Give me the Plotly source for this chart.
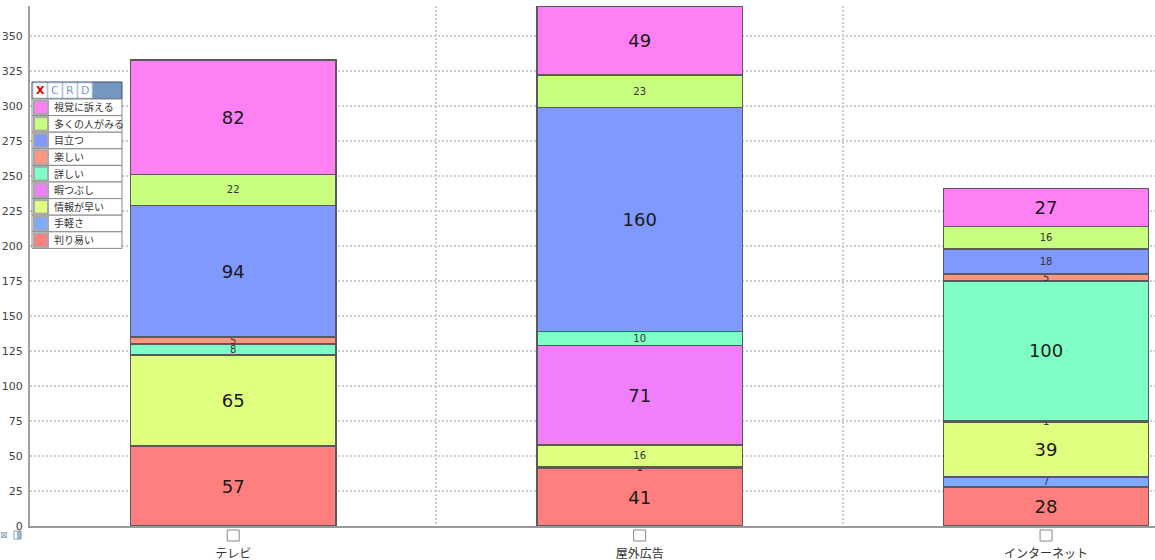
import plotly.graph_objects as go

# categories on the x axis
categories = ["テレビ", "屋外広告", "インターネット"]

# one list per response (bottom of the stack first)
wakariyasui = [57, 41, 28]      # 判り易い
tegarusa = [0, 1, 7]            # 手軽さ
jouhou_hayai = [65, 16, 39]     # 情報が早い
himatsubushi = [0, 71, 1]       # 暇つぶし
kuwashii = [8, 10, 100]         # 詳しい
tanoshii = [5, 0, 5]            # 楽しい
medatsu = [94, 160, 18]         # 目立つ
ooku_miru = [22, 23, 16]        # 多くの人がみる
shikaku = [82, 49, 27]          # 視覚に訴える

series_names = ["判り易い", "手軽さ", "情報が早い", "暇つぶし", "詳しい",
                "楽しい", "目立つ", "多くの人がみる", "視覚に訴える"]
series_values = [wakariyasui, tegarusa, jouhou_hayai, himatsubushi, kuwashii,
                 tanoshii, medatsu, ooku_miru, shikaku]
colors = ["#ff7f7f", "#7faaff", "#dfff7f", "#f07ffc", "#7fffc6",
          "#ff967f", "#7f99ff", "#c8ff7f", "#ff7ff5"]

FONT = "DejaVu Sans, Noto Sans CJK JP, sans-serif"

# plot area in pixels (used for the hand-made legend box)
L, T, W, H = 30, 6, 1125, 520


def px_x(p):
    return (p - L) / W


def px_y(p):
    return (T + H - p) / H


data = []
for name, vals, col in zip(series_names, series_values, colors):
    data.append(go.Bar(
        x=categories,
        y=vals,
        name=name,
        marker=dict(color=col, line=dict(color="#5a5a5a", width=1.5)),
        text=[str(v) if v else "" for v in vals],
        textposition="inside",
        insidetextanchor="middle",
        textangle=0,
        constraintext="none",
        textfont=dict(size=[18 if v >= 25 else 10 for v in vals],
                      color=["#1a1a1a" if v >= 25 else "#333333" for v in vals],
                      family=FONT),
        showlegend=False,
        hoverinfo="x+y+name",
    ))

shapes = []
annotations = []

# legend header with the X C R D buttons
shapes.append(dict(type="rect", xref="paper", yref="paper",
                   x0=px_x(32), x1=px_x(122), y0=px_y(99), y1=px_y(82),
                   fillcolor="#7397bd", line=dict(color="#3b4d6e", width=1)))
for i, (lab, lc) in enumerate(zip(["X", "C", "R", "D"],
                                  ["#e00000", "#7a9bd0", "#7a9bd0", "#7a9bd0"])):
    bx0 = 33 + i * 15
    shapes.append(dict(type="rect", xref="paper", yref="paper",
                       x0=px_x(bx0), x1=px_x(bx0 + 14), y0=px_y(98), y1=px_y(83),
                       fillcolor="white", line=dict(color="#c8d4e4", width=1)))
    annotations.append(dict(xref="paper", yref="paper", x=px_x(bx0 + 7), y=px_y(90.5),
                            text="<b>X</b>" if lab == "X" else lab,
                            showarrow=False, xanchor="center", yanchor="middle",
                            font=dict(size=11, color=lc, family=FONT)))

# legend rows, top of the stack first
row_h = 16.6
for j, (name, col) in enumerate(zip(series_names[::-1], colors[::-1])):
    y0 = 99 + j * row_h
    y1 = y0 + row_h
    shapes.append(dict(type="rect", xref="paper", yref="paper",
                       x0=px_x(32), x1=px_x(122), y0=px_y(y1), y1=px_y(y0),
                       fillcolor="white", line=dict(color="#888888", width=1)))
    shapes.append(dict(type="rect", xref="paper", yref="paper",
                       x0=px_x(33), x1=px_x(49), y0=px_y(y1 - 0.5), y1=px_y(y0 + 0.5),
                       fillcolor="#a8a8a8", line=dict(width=0)))
    shapes.append(dict(type="rect", xref="paper", yref="paper",
                       x0=px_x(35), x1=px_x(47), y0=px_y(y1 - 2.5), y1=px_y(y0 + 2.5),
                       fillcolor=col, line=dict(width=0)))
    annotations.append(dict(xref="paper", yref="paper", x=px_x(52), y=px_y(y0 + row_h / 2),
                            text=name, showarrow=False, xanchor="left", yanchor="middle",
                            font=dict(size=10, color="#333333", family=FONT)))

# check boxes under each category
for i in range(len(categories)):
    shapes.append(dict(type="rect", xref="x", yref="paper",
                       x0=i - 6 / 407, x1=i + 6 / 407, y0=px_y(541), y1=px_y(530),
                       fillcolor="white", line=dict(color="#888888", width=1)))

# small icons in the lower-left corner
annotations.append(dict(xref="paper", yref="paper", x=px_x(4), y=px_y(535),
                        text="⊠", showarrow=False, xanchor="center", yanchor="middle",
                        font=dict(size=9, color="#8a9ab0", family=FONT)))
shapes.append(dict(type="rect", xref="paper", yref="paper",
                   x0=px_x(14), x1=px_x(21), y0=px_y(539), y1=px_y(531),
                   fillcolor="#9fb6d6", line=dict(color="#7f96b6", width=1)))
shapes.append(dict(type="rect", xref="paper", yref="paper",
                   x0=px_x(14.5), x1=px_x(17), y0=px_y(538.5), y1=px_y(531.5),
                   fillcolor="white", line=dict(width=0)))

layout = go.Layout(
    width=1155, height=560,
    barmode="stack",
    bargap=0.495,
    margin=dict(l=L, r=1155 - L - W, t=T, b=560 - T - H, pad=0, autoexpand=False),
    paper_bgcolor="white",
    plot_bgcolor="white",
    font=dict(family=FONT, size=11, color="#333333"),
    xaxis=dict(
        type="category",
        range=[-0.5, 2.268],
        automargin=False,
        tickson="boundaries",
        showgrid=True,
        gridcolor="#cccccc",
        gridwidth=1.5,
        griddash="2px,2px",
        showline=True,
        linecolor="#9a9a9a",
        linewidth=2,
        ticks="",
        ticklabelstandoff=16,
        tickfont=dict(size=12, color="#333333", family=FONT),
        zeroline=False,
    ),
    yaxis=dict(
        range=[0, 371.4],
        automargin=False,
        tick0=0,
        dtick=25,
        showgrid=True,
        gridcolor="#cccccc",
        gridwidth=1.5,
        griddash="2px,2px",
        showline=True,
        linecolor="#a0a0a0",
        linewidth=2,
        ticks="",
        ticklabelstandoff=3,
        tickfont=dict(size=11, color="#444444", family=FONT),
        zeroline=False,
    ),
    shapes=shapes,
    annotations=annotations,
)

fig = go.Figure(data=data, layout=layout)
# the page has a default 8px body margin; drop it so the chart sits at the corner
fig.write_html("out.html", config={"displayModeBar": False},
               post_script="document.body.style.margin = '0px';")
